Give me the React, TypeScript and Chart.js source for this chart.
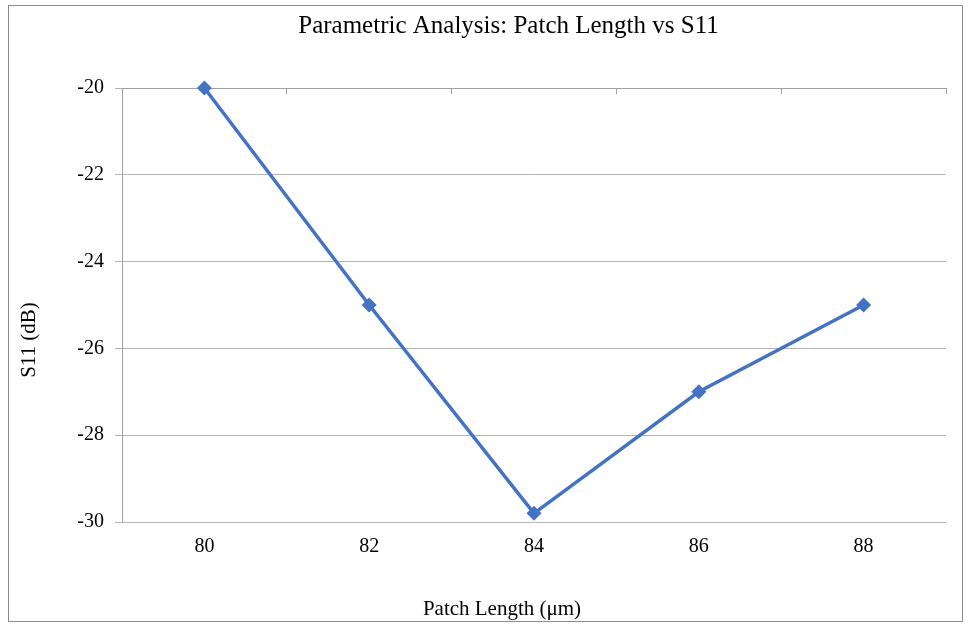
import { useEffect, useRef } from 'react';
import { Chart, registerables } from 'chart.js';

Chart.register(...registerables);

// Series data
const patchLengths: string[] = ['80', '82', '84', '86', '88'];
const s11Values: number[] = [-20, -25, -29.8, -27, -25];

// Value axis range
const yMin = -30;
const yMax = -20;
const yStep = 2;

// Text
const chartTitle = 'Parametric Analysis: Patch Length vs S11';
const xAxisTitle = 'Patch Length (μm)';
const yAxisTitle = 'S11 (dB)';

const FONT = '"Liberation Serif", "Times New Roman", serif';
const LINE_BLUE = '#4472C4';
const GRID_GRAY = '#b3b3b3';
const AXIS_GRAY = '#a0a0a0';

// Draws the chart title and both axis titles in Excel-like positions.
const titlesPlugin = {
  id: 'excelTitles',
  afterDraw(chart: any) {
    const { ctx } = chart;
    ctx.save();
    ctx.fillStyle = '#000';
    ctx.textAlign = 'center';
    ctx.textBaseline = 'alphabetic';
    ctx.font = `25px ${FONT}`;
    ctx.fillText(chartTitle, 508.5, 33);
    ctx.font = `21px ${FONT}`;
    ctx.fillText(xAxisTitle, 502, 615);
    ctx.translate(35, 340);
    ctx.rotate(-Math.PI / 2);
    ctx.fillText(yAxisTitle, 0, 0);
    ctx.restore();
  },
};

export default function App() {
  const canvasRef = useRef<HTMLCanvasElement | null>(null);

  useEffect(() => {
    if (!canvasRef.current) return;
    const chart = new Chart(canvasRef.current, {
      type: 'line',
      data: {
        labels: patchLengths,
        datasets: [
          {
            label: 'S11',
            data: s11Values,
            borderColor: LINE_BLUE,
            backgroundColor: LINE_BLUE,
            borderWidth: 3.5,
            tension: 0,
            clip: false,
            pointStyle: 'rectRot',
            pointRadius: 7.5,
            pointBackgroundColor: LINE_BLUE,
            pointBorderColor: LINE_BLUE,
            pointBorderWidth: 0,
          },
        ],
      },
      options: {
        animation: false,
        responsive: false,
        maintainAspectRatio: false,
        layout: { padding: { top: 88, right: 23, left: 0, bottom: 0 } },
        plugins: {
          legend: { display: false },
          tooltip: { enabled: false },
          title: { display: false },
        },
        scales: {
          x: {
            type: 'category',
            position: 'bottom',
            offset: true,
            grid: { display: false, drawTicks: false },
            border: { display: false },
            ticks: { color: '#000', font: { family: FONT, size: 20 }, padding: 13 },
            afterFit(scale: any) {
              scale.height = 103;
            },
          },
          xTop: {
            type: 'category',
            position: 'top',
            offset: true,
            grid: {
              offset: true,
              drawOnChartArea: false,
              drawTicks: true,
              tickLength: -6,
              color: AXIS_GRAY,
            },
            border: { display: true, color: AXIS_GRAY },
            ticks: { display: false },
            afterFit(scale: any) {
              scale.height = 0;
            },
          },
          y: {
            min: yMin,
            max: yMax,
            ticks: {
              stepSize: yStep,
              color: '#000',
              font: { family: FONT, size: 20 },
              padding: 11,
            },
            grid: { color: GRID_GRAY, tickLength: 7, drawTicks: true },
            border: { color: AXIS_GRAY },
            afterFit(scale: any) {
              scale.width = 122;
            },
          },
        },
      },
      plugins: [titlesPlugin],
    });
    return () => chart.destroy();
  }, []);

  return (
    <div style={{ position: 'absolute', left: 0, top: 0, width: 969, height: 625, background: '#fff' }}>
      <canvas ref={canvasRef} width={969} height={625} style={{ width: 969, height: 625, display: 'block' }} />
      <div
        style={{
          position: 'absolute',
          left: 8,
          top: 5,
          width: 955,
          height: 617,
          boxSizing: 'border-box',
          border: '1px solid #8c8c8c',
          pointerEvents: 'none',
        }}
      />
    </div>
  );
}
